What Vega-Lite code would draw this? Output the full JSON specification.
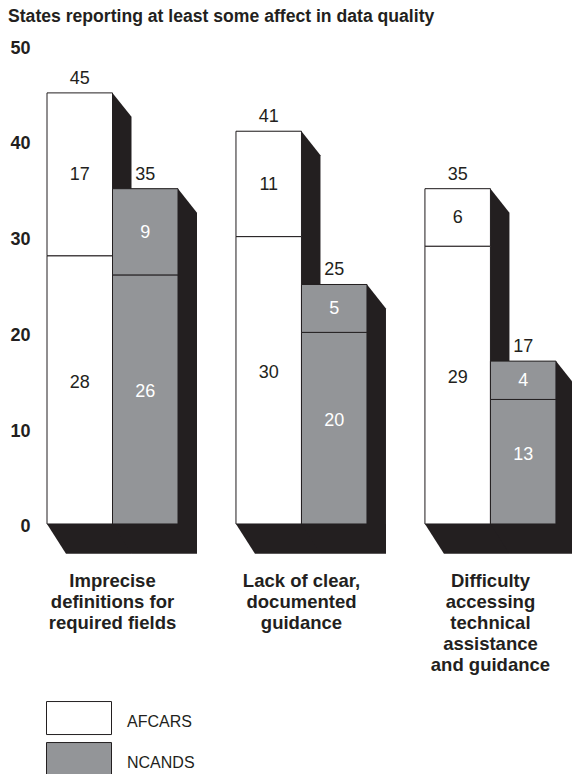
{
  "$schema": "https://vega.github.io/schema/vega-lite/v6.json",
  "autosize": "none",
  "padding": {"left": 47, "top": 45, "right": 0, "bottom": 0},
  "width": 525,
  "height": 729,
  "background": "white",
  "title": {
    "text": "States reporting at least some affect in data quality",
    "anchor": "start",
    "frame": "group",
    "dx": -39,
    "offset": 13,
    "font": "Liberation Sans",
    "fontSize": 17.6,
    "fontWeight": "bold",
    "color": "#231f20"
  },
  "config": {"view": {"stroke": null}, "font": "Liberation Sans"},
  "data": {
    "values": [
      {"group": 0, "cause": "Imprecise\ndefinitions for\nrequired fields", "system": "AFCARS", "part": "lower", "states": 28},
      {"group": 0, "cause": "Imprecise\ndefinitions for\nrequired fields", "system": "AFCARS", "part": "upper", "states": 17},
      {"group": 0, "cause": "Imprecise\ndefinitions for\nrequired fields", "system": "NCANDS", "part": "lower", "states": 26},
      {"group": 0, "cause": "Imprecise\ndefinitions for\nrequired fields", "system": "NCANDS", "part": "upper", "states": 9},
      {"group": 1, "cause": "Lack of clear,\ndocumented\nguidance", "system": "AFCARS", "part": "lower", "states": 30},
      {"group": 1, "cause": "Lack of clear,\ndocumented\nguidance", "system": "AFCARS", "part": "upper", "states": 11},
      {"group": 1, "cause": "Lack of clear,\ndocumented\nguidance", "system": "NCANDS", "part": "lower", "states": 20},
      {"group": 1, "cause": "Lack of clear,\ndocumented\nguidance", "system": "NCANDS", "part": "upper", "states": 5},
      {"group": 2, "cause": "Difficulty\naccessing\ntechnical\nassistance\nand guidance", "system": "AFCARS", "part": "lower", "states": 29},
      {"group": 2, "cause": "Difficulty\naccessing\ntechnical\nassistance\nand guidance", "system": "AFCARS", "part": "upper", "states": 6},
      {"group": 2, "cause": "Difficulty\naccessing\ntechnical\nassistance\nand guidance", "system": "NCANDS", "part": "lower", "states": 13},
      {"group": 2, "cause": "Difficulty\naccessing\ntechnical\nassistance\nand guidance", "system": "NCANDS", "part": "upper", "states": 4}
    ]
  },
  "transform": [
    {"joinaggregate": [{"op": "sum", "field": "states", "as": "total"}], "groupby": ["group", "system"]},
    {"stack": "states", "groupby": ["group", "system"], "sort": [{"field": "part", "order": "ascending"}], "as": ["s0", "s1"]},
    {"calculate": "datum.group * 2.885 + (datum.system === 'NCANDS' ? 1 : 0)", "as": "left"},
    {"calculate": "datum.left + 1", "as": "right"},
    {"calculate": "datum.left + 0.5", "as": "mid"},
    {"calculate": "(datum.s0 + datum.s1) / 2", "as": "center"}
  ],
  "layer": [
    {
      "description": "Dark extruded silhouette behind every bar, traced through four vertices",
      "transform": [
        {"filter": "datum.part === 'upper'"},
        {"calculate": "[0, 1, 2, 3]", "as": "vertex"},
        {"flatten": ["vertex"]},
        {"calculate": "datum.left + [0, 0.29, 1, 1.29][datum.vertex]", "as": "vx"},
        {"calculate": "datum.total - [0, 0, 0, 2.5][datum.vertex]", "as": "vtop"},
        {"calculate": "[0, -3.1, -3.1, -3.1][datum.vertex]", "as": "vbottom"},
        {"calculate": "datum.group + datum.system", "as": "barKey"}
      ],
      "mark": {"type": "area", "color": "#231f20", "orient": "vertical", "interpolate": "linear"},
      "encoding": {
        "x": {"field": "vx", "type": "quantitative", "scale": {"domain": [0, 8.015], "nice": false, "zero": false}, "axis": null},
        "y": {
          "field": "vtop",
          "type": "quantitative",
          "stack": null,
          "scale": {"domain": [-26.1, 50], "nice": false, "zero": false},
          "axis": {
            "values": [0, 10, 20, 30, 40, 50],
            "title": null,
            "grid": false,
            "ticks": false,
            "domain": false,
            "labelPadding": 17,
            "labelOffset": 3,
            "labelFont": "Liberation Sans",
            "labelFontSize": 18,
            "labelFontWeight": "bold",
            "labelColor": "#231f20"
          }
        },
        "y2": {"field": "vbottom"},
        "detail": {"field": "barKey"}
      }
    },
    {
      "description": "Front faces of the stacked bars",
      "mark": {"type": "rect", "stroke": "#231f20", "strokeWidth": 1},
      "encoding": {
        "x": {"field": "left", "type": "quantitative"},
        "x2": {"field": "right"},
        "y": {"field": "s1", "type": "quantitative"},
        "y2": {"field": "s0"},
        "fill": {
          "field": "system",
          "type": "nominal",
          "scale": {"domain": ["AFCARS", "NCANDS"], "range": ["#ffffff", "#939598"]},
          "legend": {
            "title": null,
            "orient": "none",
            "legendX": -1,
            "legendY": 660,
            "symbolType": "M-1,-1.24H2.94V0.76H-1Z",
            "symbolSize": 1089,
            "symbolStrokeColor": "#231f20",
            "symbolStrokeWidth": 1,
            "symbolOpacity": 1,
            "rowPadding": 3,
            "labelOffset": 47,
            "labelFont": "Liberation Sans",
            "labelFontSize": 16,
            "labelColor": "#231f20"
          }
        }
      }
    },
    {
      "description": "Segment values for the lower parts",
      "transform": [{"filter": "datum.part === 'lower'"}],
      "mark": {"type": "text", "font": "Liberation Sans", "fontSize": 18, "baseline": "middle", "dy": -7},
      "encoding": {
        "x": {"field": "mid", "type": "quantitative"},
        "y": {"field": "center", "type": "quantitative"},
        "text": {"field": "states", "type": "quantitative"},
        "color": {"condition": {"test": "datum.system === 'NCANDS'", "value": "#ffffff"}, "value": "#231f20"}
      }
    },
    {
      "description": "Segment values for the upper parts",
      "transform": [{"filter": "datum.part === 'upper'"}],
      "mark": {"type": "text", "font": "Liberation Sans", "fontSize": 18, "baseline": "middle", "dy": 1},
      "encoding": {
        "x": {"field": "mid", "type": "quantitative"},
        "y": {"field": "center", "type": "quantitative"},
        "text": {"field": "states", "type": "quantitative"},
        "color": {"condition": {"test": "datum.system === 'NCANDS'", "value": "#ffffff"}, "value": "#231f20"}
      }
    },
    {
      "description": "Bar totals above each column",
      "transform": [{"filter": "datum.part === 'upper'"}],
      "mark": {"type": "text", "font": "Liberation Sans", "fontSize": 18, "baseline": "alphabetic", "dy": -9, "color": "#231f20"},
      "encoding": {
        "x": {"field": "mid", "type": "quantitative"},
        "y": {"field": "total", "type": "quantitative"},
        "text": {"field": "total", "type": "quantitative"}
      }
    },
    {
      "description": "Multi-line category captions under each pair of bars",
      "transform": [{"filter": "datum.part === 'upper' && datum.system === 'AFCARS'"}],
      "mark": {"type": "text", "font": "Liberation Sans", "fontSize": 18.5, "fontWeight": "bold", "baseline": "top", "align": "center", "lineBreak": "\n", "lineHeight": 21, "color": "#231f20"},
      "encoding": {
        "x": {"field": "right", "type": "quantitative"},
        "y": {"datum": -5},
        "text": {"field": "cause", "type": "nominal"}
      }
    }
  ]
}
